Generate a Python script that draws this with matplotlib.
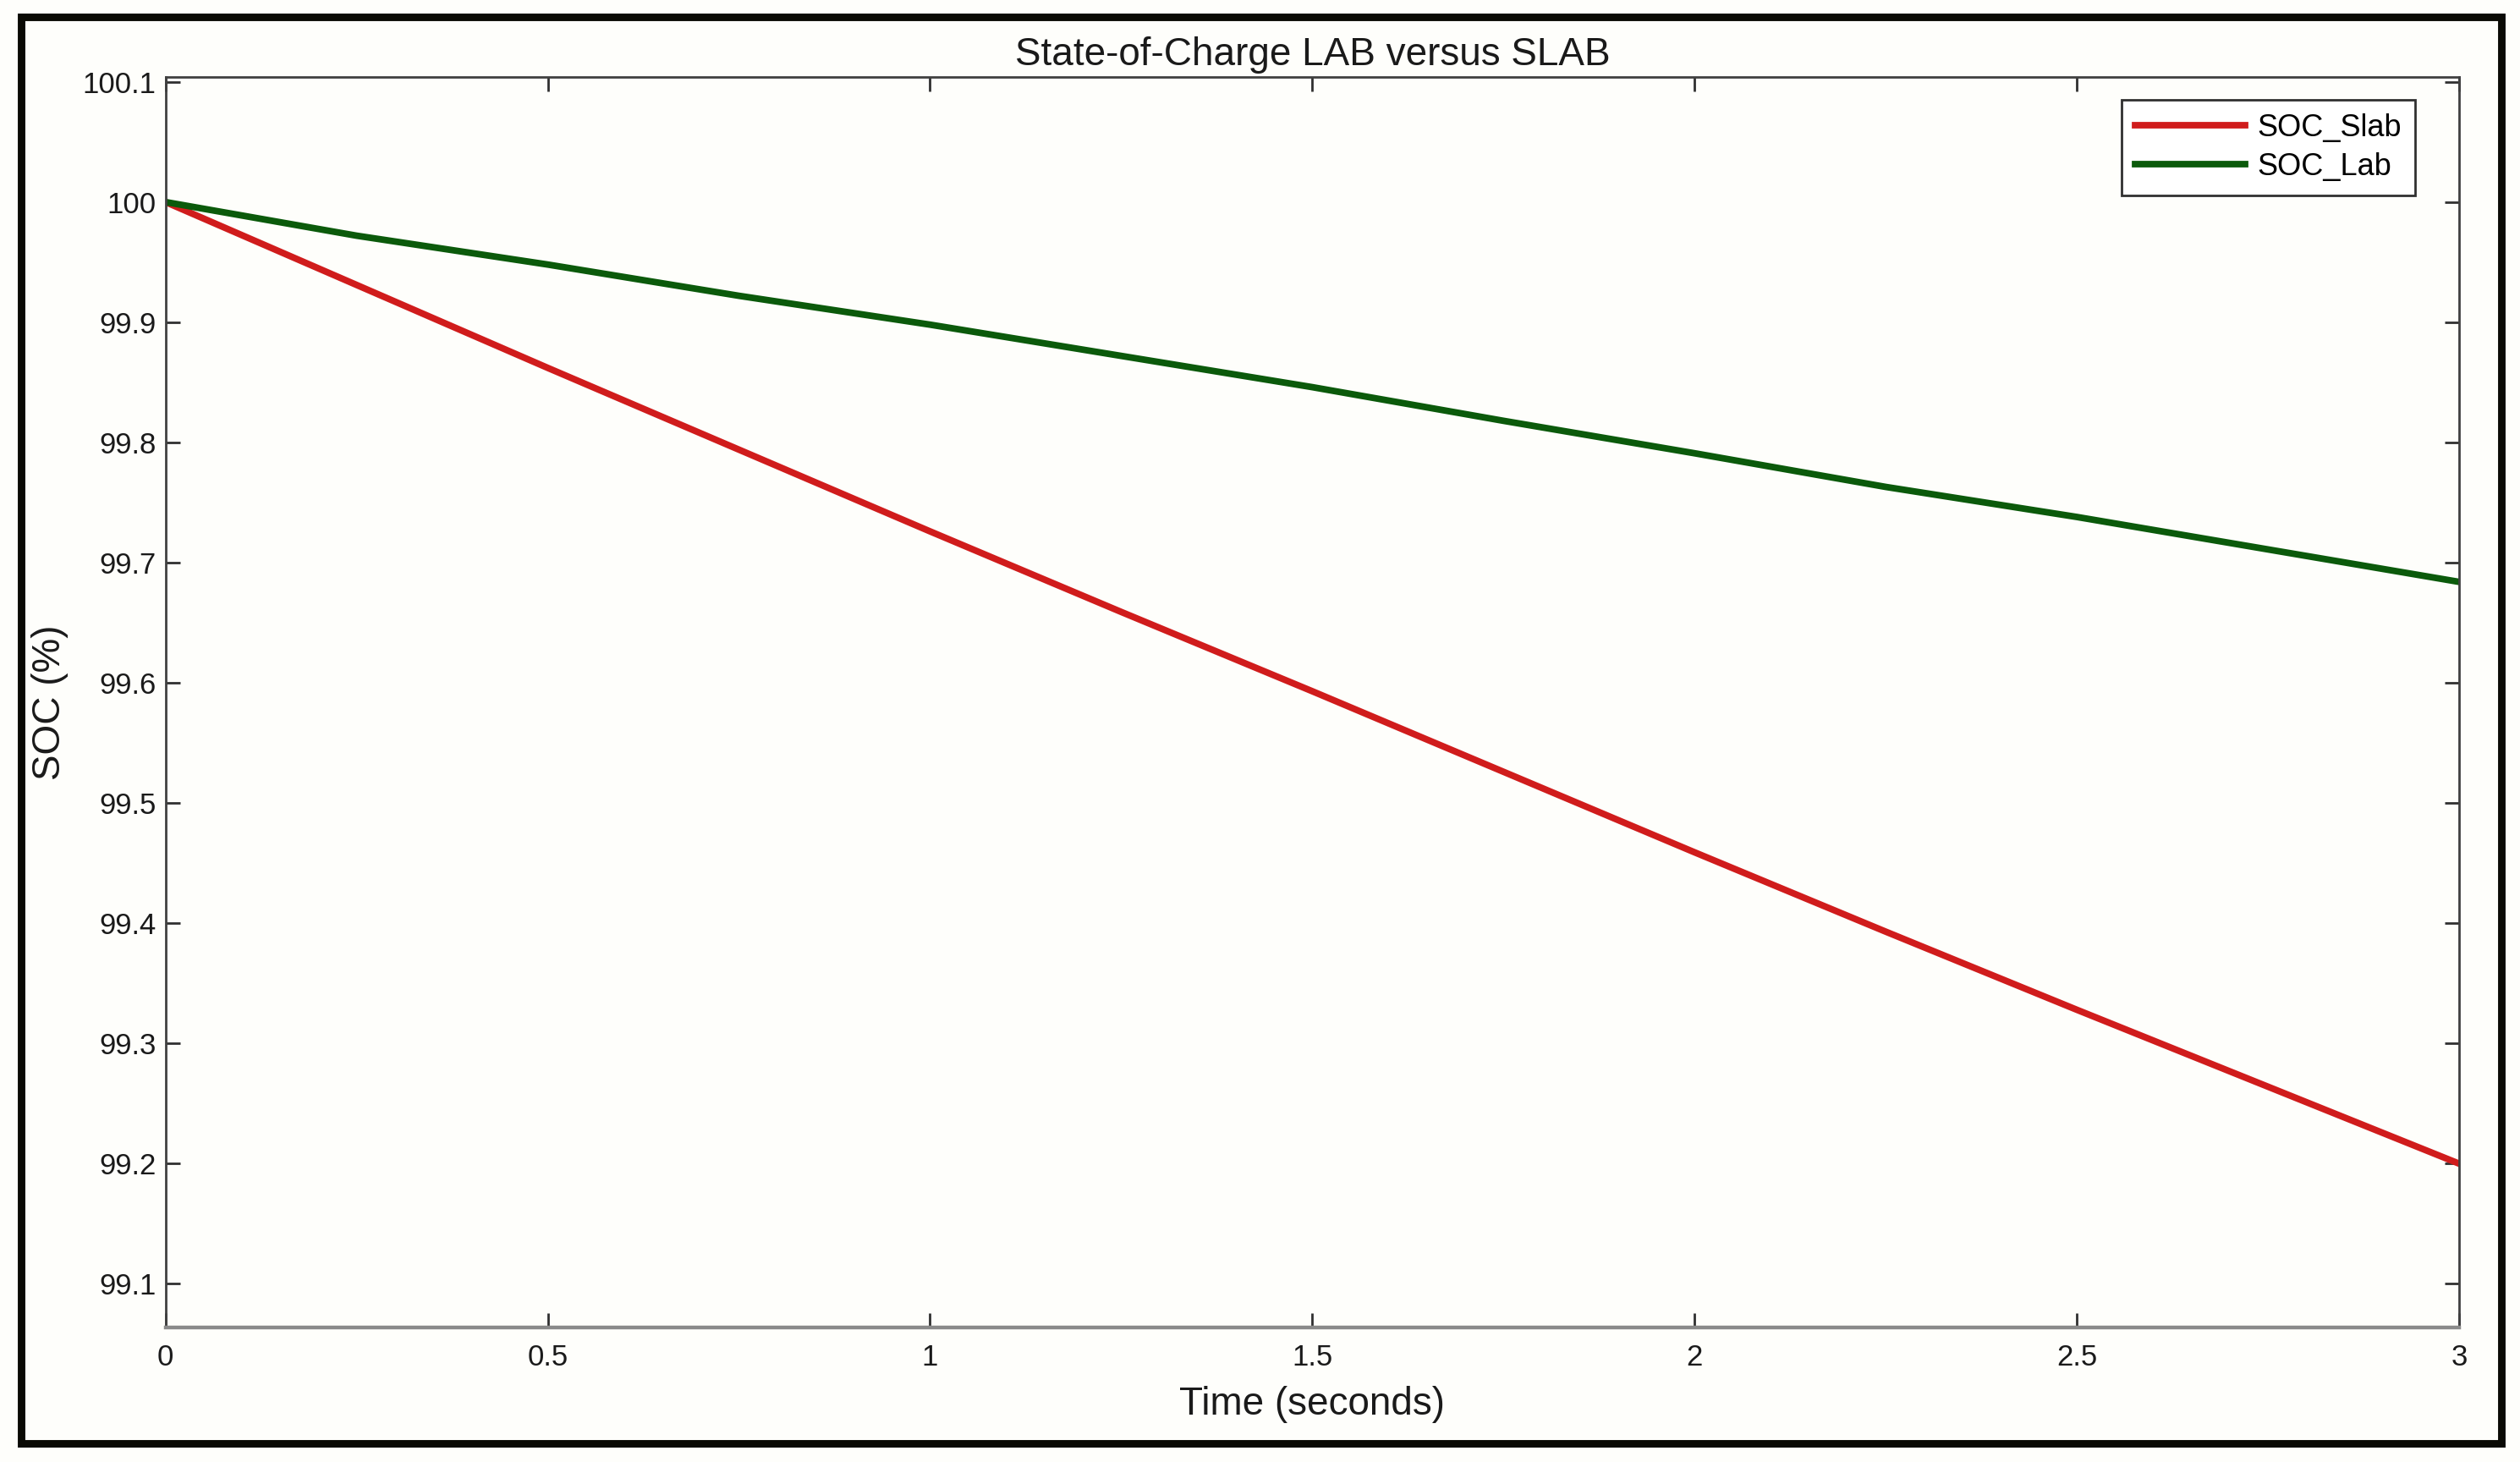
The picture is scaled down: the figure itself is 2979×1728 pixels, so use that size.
import matplotlib
matplotlib.use("Agg")
import matplotlib.pyplot as plt
from matplotlib.patches import Rectangle

# time axis samples (seconds) and SOC values
time_s = [0.0, 0.25, 0.5, 0.75, 1.0, 1.25, 1.5, 1.75, 2.0, 2.25, 2.5, 2.75, 3.0]
soc_slab = [100.0, 99.931, 99.862, 99.794, 99.726, 99.659, 99.593, 99.526, 99.459,
            99.393, 99.328, 99.264, 99.200]
soc_lab = [100.0, 99.972, 99.948, 99.922, 99.898, 99.872, 99.846, 99.818, 99.791,
           99.763, 99.738, 99.711, 99.684]

yticks = [99.1, 99.2, 99.3, 99.4, 99.5, 99.6, 99.7, 99.8, 99.9, 100.0, 100.1]
ytick_labels = ["99.1", "99.2", "99.3", "99.4", "99.5", "99.6", "99.7", "99.8", "99.9", "100", "100.1"]
xticks = [0, 0.5, 1, 1.5, 2, 2.5, 3]
xtick_labels = ["0", "0.5", "1", "1.5", "2", "2.5", "3"]

plt.rcParams['font.family'] = ['Liberation Sans', 'DejaVu Sans']

fig = plt.figure(figsize=(14.895, 8.64), dpi=200, facecolor="#fefefb")
ax = fig.add_axes([0.0657, 0.0923, 0.9101, 0.8550])
ax.set_facecolor("#fefefb")

ax.plot(time_s, soc_slab, color="#d01c1c", linewidth=2.8, label="SOC_Slab")
ax.plot(time_s, soc_lab, color="#0b5a0b", linewidth=2.8, label="SOC_Lab")

ax.set_xlim(0, 3)
ax.set_ylim(99.064, 100.104)
ax.set_xticks(xticks)
ax.set_xticklabels(xtick_labels)
ax.set_yticks(yticks)
ax.set_yticklabels(ytick_labels)

ax.tick_params(direction="in", length=6, width=1.0, color="#303030",
               top=True, right=True, labelsize=12.5, labelcolor="#1a1a1a")
ax.tick_params(axis="x", pad=7)
ax.tick_params(axis="y", pad=4)
for side in ["left", "right", "top", "bottom"]:
    ax.spines[side].set_color("#404040")
    ax.spines[side].set_linewidth(1.0)
ax.spines["bottom"].set_color("#8a8a8a")
ax.spines["bottom"].set_linewidth(1.6)

ax.set_title("State-of-Charge LAB versus SLAB", fontsize=16.5, color="#1a1a1a", pad=5)
ax.set_xlabel("Time (seconds)", fontsize=16.5, color="#1a1a1a", labelpad=6)
ax.set_ylabel("SOC (%)", fontsize=16.5, color="#1a1a1a", labelpad=6)

leg = ax.legend(loc="upper right", fontsize=13, handlelength=3.6, handletextpad=0.4,
                borderpad=0.45, labelspacing=0.3, fancybox=False, framealpha=1,
                borderaxespad=0, bbox_to_anchor=(0.981, 0.982))
leg.get_frame().set_edgecolor("#303030")
leg.get_frame().set_linewidth(1.0)

# thick black outer frame around the whole figure
fig.patches.append(Rectangle((0.0085, 0.0125), 0.984, 0.976, transform=fig.transFigure,
                             fill=False, edgecolor="#0a0a05", linewidth=3.2))

fig.savefig("out.png", dpi=200, facecolor=fig.get_facecolor())
